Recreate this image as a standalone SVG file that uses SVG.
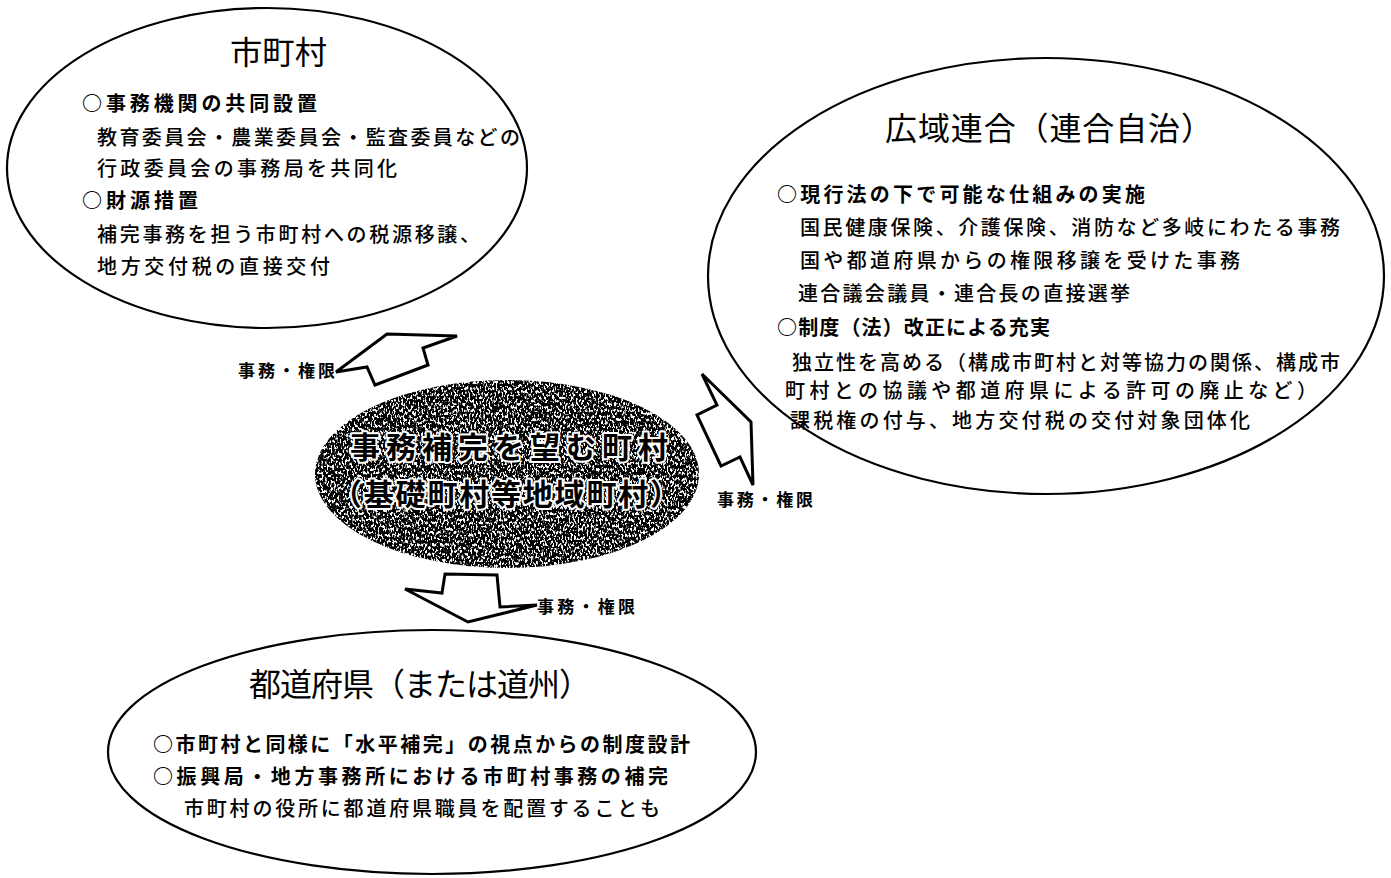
<svg xmlns="http://www.w3.org/2000/svg" width="1391" height="878" viewBox="0 0 1391 878">
<style>
  text { font-family: "Noto Sans CJK JP", "Noto Sans CJK SC", sans-serif; fill: #000; }
  .title { font-size: 32px; font-weight: 400; }
  .head { font-size: 20px; font-weight: 700; }
  .body { font-size: 20px; font-weight: 500; }
  .lbl { font-size: 17px; font-weight: 700; }
  .center { font-size: 30px; font-weight: 700; stroke: #fff; stroke-width: 4px; paint-order: stroke; stroke-linejoin: round; }
  .oval { fill: #fff; stroke: #000; stroke-width: 2.2; }
  .arrow { fill: #fff; stroke: #000; stroke-width: 3; stroke-linejoin: miter; }
</style>
<defs>
  <filter id="grain" x="-5%" y="-5%" width="110%" height="110%" color-interpolation-filters="sRGB">
    <feTurbulence type="fractalNoise" baseFrequency="0.55 0.32" numOctaves="2" seed="7" result="noise"/>
    <feColorMatrix in="noise" type="matrix" values="0 0 0 0 0  0 0 0 0 0  0 0 0 0 0  9 0 0 0 -3.4" result="dots"/>
    <feComposite in="dots" in2="SourceAlpha" operator="in"/>
  </filter>
</defs>
<rect width="1391" height="878" fill="#fff"/>

<g id="node-shichoson">
  <ellipse class="oval" cx="267" cy="168" rx="260" ry="160"/>
  <text class="title" x="230" y="64" textLength="97" lengthAdjust="spacingAndGlyphs">市町村</text>
  <text class="head" x="82" y="111" textLength="235" lengthAdjust="spacing">○事務機関の共同設置</text>
  <text class="body" x="97" y="145" textLength="423" lengthAdjust="spacing">教育委員会・農業委員会・監査委員などの</text>
  <text class="body" x="97" y="176" textLength="300" lengthAdjust="spacing">行政委員会の事務局を共同化</text>
  <text class="head" x="82" y="208" textLength="116" lengthAdjust="spacing">○財源措置</text>
  <text class="body" x="97" y="242" textLength="383" lengthAdjust="spacing">補完事務を担う市町村への税源移譲、</text>
  <text class="body" x="97" y="274" textLength="233" lengthAdjust="spacing">地方交付税の直接交付</text>
</g>

<g id="node-kouiki">
  <ellipse class="oval" cx="1046" cy="276" rx="338" ry="218"/>
  <text class="title" x="885" y="140" textLength="328" lengthAdjust="spacing">広域連合（連合自治）</text>
  <text class="head" x="777" y="202" textLength="368" lengthAdjust="spacing">○現行法の下で可能な仕組みの実施</text>
  <text class="body" x="800" y="235" textLength="540" lengthAdjust="spacing">国民健康保険、介護保険、消防など多岐にわたる事務</text>
  <text class="body" x="800" y="268" textLength="440" lengthAdjust="spacing">国や都道府県からの権限移譲を受けた事務</text>
  <text class="body" x="798" y="301" textLength="332" lengthAdjust="spacing">連合議会議員・連合長の直接選挙</text>
  <text class="head" x="777" y="335" textLength="273" lengthAdjust="spacing">○制度（法）改正による充実</text>
  <text class="body" x="792" y="370" textLength="548" lengthAdjust="spacing">独立性を高める（構成市町村と対等協力の関係、構成市</text>
  <text class="body" x="785" y="398" textLength="532" lengthAdjust="spacing">町村との協議や都道府県による許可の廃止など）</text>
  <text class="body" x="790" y="428" textLength="460" lengthAdjust="spacing">課税権の付与、地方交付税の交付対象団体化</text>
</g>

<g id="node-todofuken">
  <ellipse class="oval" cx="432" cy="752" rx="324" ry="122"/>
  <text class="title" x="249" y="696" textLength="342" lengthAdjust="spacing">都道府県（または道州）</text>
  <text class="head" x="153" y="752" textLength="537" lengthAdjust="spacing">○市町村と同様に「水平補完」の視点からの制度設計</text>
  <text class="head" x="153" y="784" textLength="515" lengthAdjust="spacing">○振興局・地方事務所における市町村事務の補完</text>
  <text class="body" x="184" y="816" textLength="476" lengthAdjust="spacing">市町村の役所に都道府県職員を配置することも</text>
</g>

<g id="node-center">
  <ellipse cx="507" cy="474" rx="192" ry="94" fill="#000" filter="url(#grain)"/>
  <text class="center" x="350" y="458" textLength="318" lengthAdjust="spacing">事務補完を望む町村</text>
  <text class="center" x="332" y="505" textLength="348" lengthAdjust="spacing">（基礎町村等地域町村）</text>
</g>

<g id="connectors">
  <polygon class="arrow" points="336,372 387,334 457,336 423,348 428,365 375,385 367,367"/>
  <text class="lbl" x="238" y="377" textLength="97" lengthAdjust="spacing">事務・権限</text>
  <polygon class="arrow" points="702,374 751,422 753,485 740,457 721,466 697,415 717,405"/>
  <text class="lbl" x="717" y="506" textLength="96" lengthAdjust="spacing">事務・権限</text>
  <polygon class="arrow" points="405,589 442,593 445,574 497,575 500,607 537,605 468,622"/>
  <text class="lbl" x="537" y="613" textLength="98" lengthAdjust="spacing">事務・権限</text>
</g>
</svg>
